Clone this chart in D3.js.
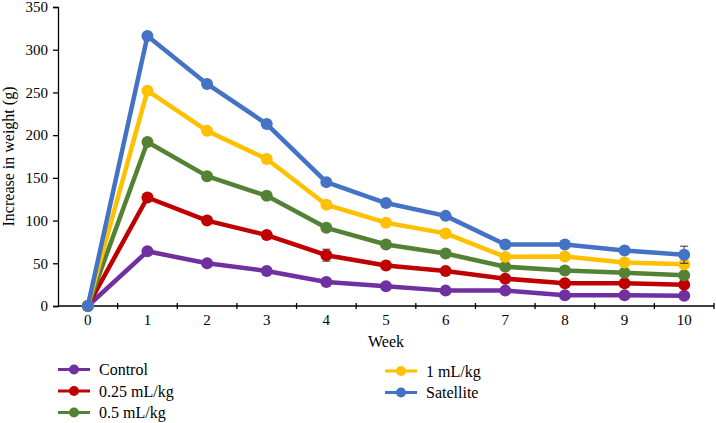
<!DOCTYPE html>
<html><head><meta charset="utf-8">
<script src="https://cdn.jsdelivr.net/npm/d3@7"></script>
<style>body{margin:0;background:#fff}svg{display:block}</style>
</head><body><svg id="c" width="716" height="423"></svg>
<script>
const weeks = ["0","1","2","3","4","5","6","7","8","9","10"];
const seriesNames = ["Control","0.25 mL/kg","0.5 mL/kg","1 mL/kg","Satellite"];
const seriesColors = ["#7030A0","#C00000","#548235","#FFC000","#4472C4"];
const control   = [0, 64, 50, 41, 28, 23, 18, 18, 12.5, 12.5, 12];
const dose025   = [0, 127, 100, 83, 59.5, 47.5, 41, 32, 26.5, 26.5, 25];
const dose05    = [0, 192, 152, 129, 91.5, 72, 61.5, 46, 41.5, 39, 36];
const dose1     = [0, 252, 205, 172, 118.5, 97.5, 85, 57.5, 58, 51, 49];
const satellite = [0, 316, 260, 213, 145, 120.5, 105.5, 72, 72, 65, 60];
const errControl   = [0,2,2,2,2,2,2,2,2,2,2];
const err025       = [0,3,3,3,7,3,3,3,2,2,2];
const err05        = [0,3,3,3,3,3,3,3,2,2,2];
const err1         = [0,3,3,3,3,3,3,3,3,3,3];
const errSatellite = [0,3,3,3,3,3,3,3,3,3,10];
const yTicks = [0,50,100,150,200,250,300,350];

const seriesValues = [control, dose025, dose05, dose1, satellite];
const seriesErr = [errControl, err025, err05, err1, errSatellite];
const FONT = "'Liberation Serif', 'Times New Roman', Times, 'DejaVu Serif', serif";

const svg = d3.select("#c").style("font-family", FONT);
const m = {l:58, r:2, t:7, b:117};
const W = 716, H = 423;
const x = d3.scaleBand().domain(weeks).range([m.l, W - m.r]).paddingInner(0).paddingOuter(0);
const y = d3.scaleLinear().domain([0,350]).range([H - m.b, m.t]);

// Y axis
const ya = svg.append("g").attr("transform",`translate(${m.l},0)`)
  .call(d3.axisLeft(y).tickValues(yTicks).tickSize(5).tickPadding(5));
ya.attr("font-family", FONT);
ya.selectAll("text").style("font-size","15px").style("font-family",FONT).attr("fill","#000");
ya.selectAll("path,line").attr("stroke","#000").attr("stroke-width",1.3);

// X axis
const xa = svg.append("g").attr("transform",`translate(0,${y(0)})`)
  .call(d3.axisBottom(x).tickSize(0).tickPadding(8));
xa.attr("font-family", FONT);
xa.select(".domain").attr("d",`M${m.l},0H${W - m.r}`).attr("stroke","#000").attr("stroke-width",1.3);
xa.selectAll("text").style("font-size","15px").style("font-family",FONT).attr("fill","#000");
const edges = weeks.map(w => x(w)).concat([x(weeks[weeks.length-1]) + x.bandwidth()]);
xa.selectAll(".btick").data(edges.slice(1)).enter().append("line")
  .attr("x1",d=>d).attr("x2",d=>d).attr("y1",-3).attr("y2",3)
  .attr("stroke","#000").attr("stroke-width",1.3);

// Axis titles
svg.append("text").attr("transform",`translate(14,${(y(0)+y(350))/2}) rotate(-90)`)
  .attr("text-anchor","middle").style("font-size","16px").style("font-family",FONT).text("Increase in weight (g)");
svg.append("text").attr("x",(m.l + W - m.r)/2).attr("y",347)
  .attr("text-anchor","middle").style("font-size","16px").style("font-family",FONT).text("Week");

const cx = w => x(w) + x.bandwidth()/2;
const line = d3.line().x((d,i)=>cx(weeks[i])).y(d=>y(d));

seriesValues.forEach((vals, s) => {
  const g = svg.append("g");
  vals.forEach((v,i)=>{
    const e = seriesErr[s][i];
    if (!e) return;
    const X = cx(weeks[i]);
    g.append("path").attr("d",`M${X},${y(v+e)}V${y(v-e)}M${X-4},${y(v+e)}H${X+4}M${X-4},${y(v-e)}H${X+4}`)
      .attr("stroke","#333").attr("stroke-width",1).attr("fill","none");
  });
  g.append("path").datum(vals).attr("d",line).attr("fill","none")
    .attr("stroke",seriesColors[s]).attr("stroke-width",4.5).attr("stroke-linejoin","round");
  g.selectAll("circle").data(vals).enter().append("circle")
    .attr("cx",(d,i)=>cx(weeks[i])).attr("cy",d=>y(d)).attr("r",6)
    .attr("fill",seriesColors[s]);
});

// Legend
const legendPos = [[58,369.5],[58,391],[58,412.5],[385,371],[385,392.5]];
seriesNames.forEach((n,s)=>{
  const [lx,ly] = legendPos[s];
  const g = svg.append("g");
  g.append("line").attr("x1",lx).attr("x2",lx+32).attr("y1",ly).attr("y2",ly)
    .attr("stroke",seriesColors[s]).attr("stroke-width",3);
  g.append("circle").attr("cx",lx+16).attr("cy",ly).attr("r",5).attr("fill",seriesColors[s]);
  g.append("text").attr("x",lx+41).attr("y",ly).attr("dy","0.35em").style("font-size","16px").style("font-family",FONT).text(n);
});
</script></body></html>
